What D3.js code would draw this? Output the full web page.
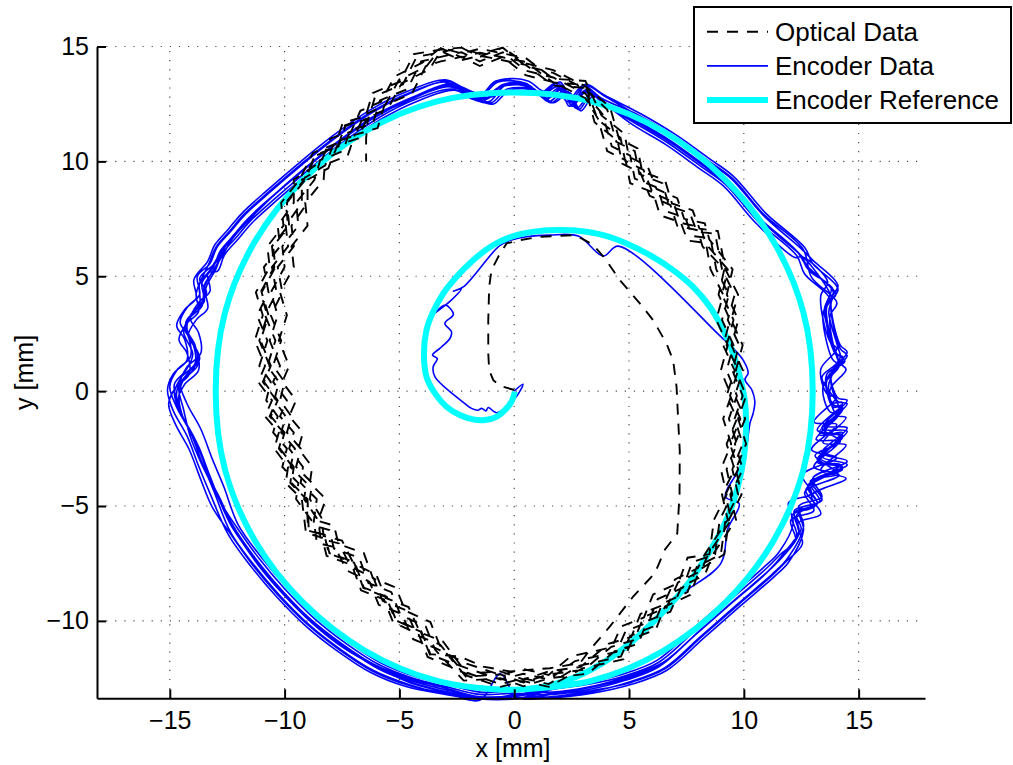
<!DOCTYPE html>
<html>
<head>
<meta charset="utf-8">
<script src="https://cdn.jsdelivr.net/npm/d3@7"></script>
<style>
  body { margin: 0; background: #fff; }
  svg { display: block; font-family: "Liberation Sans", Arial, Helvetica, sans-serif; }
</style>
</head>
<body>
<svg id="chart" width="1013" height="765"></svg>
<script>
// ---- axis ticks and series names ----
const xTicks = [-15, -10, -5, 0, 5, 10, 15];
const yTicks = [-10, -5, 0, 5, 10, 15];
const seriesNames = ["Optical Data", "Encoder Data", "Encoder Reference"];
const xLabel = "x [mm]";
const yLabel = "y [mm]";

// ---- encoder reference: inner spiral arm, then the full r = 13 mm lap ----
const referenceSpiral = [
  [0.03,-0.03],[-0.12,-0.46],[-0.41,-0.83],[-0.77,-1.12],[-1.28,-1.26],[-1.79,-1.23],
  [-2.37,-1.04],[-2.95,-0.68],[-3.45,-0.10],[-3.82,0.62],[-3.93,1.64],[-3.82,2.66],
  [-3.53,3.45],[-3.09,4.25],[-2.51,4.98],[-1.79,5.70],[-0.91,6.36],[0.10,6.79],
  [1.12,6.97],[1.99,7.01],[2.86,6.97],[3.88,6.79],[4.89,6.43],[5.91,5.92],[6.92,5.27],
  [7.79,4.54],[8.52,3.67],[9.10,2.66],[9.54,1.64],[9.83,0.62],[10.04,-0.39],[10.1,-1.5],
  [10.0,-2.9],[9.7,-4.3],[9.2,-5.7],[8.5,-7.0],[7.4,-8.6],[5.9,-10.2],[4.5,-11.4],
  [3.0,-12.3],[1.55,-12.8]
];
const referenceCircle = [
  [0.0,-13.0],[-3.4,-12.6],[-6.5,-11.3],[-9.2,-9.2],[-11.3,-6.5],[-12.6,-3.4],[-13.0,0.0],
  [-12.6,3.4],[-11.3,6.5],[-9.2,9.2],[-6.5,11.3],[-3.4,12.6],[0.0,13.0],[3.4,12.6],
  [6.5,11.3],[9.2,9.2],[11.3,6.5],[12.6,3.4],[13.0,0.0],[12.6,-3.4],[11.3,-6.5],
  [9.2,-9.2],[6.5,-11.3],[3.4,-12.6],[0.0,-13.0]
];

// ---- encoder data: start-up arm, then ten laps ----
const encoderStart = [
  [0.0,0.0],[0.38,0.3],[0.05,-0.3],[-0.77,-0.94],[-1.13,-0.71],[-1.23,-0.86],[-1.42,-0.75],
  [-1.57,-0.83],[-1.86,-0.75],[-2.15,-0.54],[-3.45,0.62],[-3.53,1.06],[-3.35,1.42],
  [-3.56,1.57],[-3.24,1.86],[-2.8,2.29],[-2.73,2.58],[-3.02,2.95],[-2.65,3.34],[-3.0,3.75],
  [-3.45,3.4],[-2.75,3.95],[-2.3,4.45],[-2.65,4.35],[-2.2,4.55],[-0.62,6.34],[-0.04,6.6],
  [0.54,6.72],[1.55,6.79],[2.79,6.75],[3.88,5.88],[4.53,6.31],[9.03,2.34],[9.54,1.86],
  [9.97,1.35],[10.19,0.79],[10.05,0.5],[10.34,0.07],[10.48,-0.44],[10.41,-0.95],[10.27,-1.39],
  [10.0,-3.0],[9.2,-4.6],[9.8,-4.9],[9.3,-6.0],[9.0,-7.5],[7.2,-8.9],[5.9,-10.2],[4.4,-11.4],
  [3.0,-12.3],[1.5,-12.95]
];
const encoderLap1 = [
  [0.0,-13.3],[-1.5,-13.35],[-3.0,-13.0],[-4.5,-12.6],[-6.0,-12.0],[-7.4,-11.1],[-8.8,-10.0],
  [-10.1,-8.7],[-11.2,-7.4],[-12.2,-6.0],[-12.9,-4.6],[-13.4,-3.4],[-13.9,-2.1],[-14.5,-1.0],
  [-14.8,-0.1],[-14.5,0.6],[-13.9,1.2],[-14.0,2.1],[-14.35,2.7],[-14.0,3.4],[-13.5,3.9],
  [-13.6,4.7],[-13.1,5.4],[-12.8,6.1],[-12.2,6.8],[-11.6,7.5],[-10.5,8.5],[-9.1,9.7],
  [-7.6,10.9],[-6.0,12.0],[-4.4,12.8],[-2.8,13.3],[-1.9,12.9],[-1.2,12.7],[-0.5,13.3],
  [0.7,13.25],[1.4,12.75],[2.1,13.2],[2.5,12.4],[3.2,13.1],[3.9,12.6],[5.3,11.8],[6.8,10.9],
  [8.2,9.9],[9.3,9.1],[10.7,7.5],[12.4,6.0],[12.8,5.4],[13.9,4.3],[13.6,3.7],[14.0,1.7],
  [14.3,1.4],[13.6,0.5],[13.9,-0.6],[14.3,-0.7],[13.3,-1.8],[14.3,-1.9],[13.2,-3.0],
  [14.3,-3.35],[12.8,-4.1],[13.2,-4.9],[12.2,-5.3],[12.4,-6.2],[11.7,-7.2],[11.1,-7.8],
  [9.6,-9.1],[8.0,-10.5],[6.4,-11.9],[4.9,-12.5],[3.3,-12.9],[1.6,-13.15]
];
const encoderLap2 = [
  [0.0,-13.4],[-1.5,-13.4],[-3.0,-13.2],[-4.65,-12.75],[-6.15,-12.15],[-7.55,-11.25],
  [-8.95,-10.15],[-10.25,-8.85],[-11.35,-7.55],[-12.35,-6.15],[-13.1,-4.3],[-13.6,-3.1],
  [-14.1,-1.8],[-14.7,-0.7],[-15.0,0.2],[-14.7,0.9],[-14.1,1.5],[-14.2,2.4],[-14.55,3.0],
  [-14.2,3.7],[-13.7,4.2],[-13.8,5.0],[-13.25,5.55],[-12.95,6.25],[-12.35,6.95],[-11.75,7.65],
  [-10.65,8.65],[-9.25,9.85],[-7.75,11.05],[-6.15,12.15],[-4.55,12.95],[-2.9,13.5],[-2.1,13.1],
  [-1.4,12.9],[-0.7,13.45],[0.5,13.4],[1.2,12.95],[1.9,13.4],[2.6,12.6],[3.1,13.3],[4.0,12.8],
  [5.45,11.95],[6.95,11.05],[8.35,10.05],[9.45,9.25],[10.85,7.65],[12.55,6.15],[13.0,5.7],
  [14.1,4.6],[13.8,4.0],[14.2,2.0],[14.5,1.7],[13.8,0.8],[14.1,-0.3],[14.5,-0.4],[13.5,-1.5],
  [14.5,-1.6],[13.4,-2.7],[14.5,-3.05],[13.0,-3.8],[13.4,-4.6],[12.4,-5.0],[12.6,-5.9],
  [11.85,-7.35],[11.25,-7.95],[9.75,-9.25],[8.15,-10.65],[6.55,-12.05],[5.05,-12.65],
  [3.3,-13.1],[1.6,-13.35]
];
const encoderLap3 = [
  [0.2,-13.2],[-1.4,-13.4],[-2.9,-13.1],[-4.4,-12.7],[-5.9,-12.1],[-7.3,-11.2],[-8.7,-10.1],
  [-10.0,-8.8],[-11.1,-7.5],[-12.1,-6.1],[-12.8,-4.8],[-13.3,-3.6],[-13.8,-2.4],[-14.3,-1.4],
  [-14.7,-0.5],[-14.6,0.3],[-14.0,0.9],[-13.8,1.7],[-14.2,2.4],[-14.2,3.1],[-13.6,3.7],
  [-13.5,4.5],[-13.2,5.1],[-12.7,5.9],[-12.3,6.6],[-11.7,7.3],[-10.6,8.4],[-9.2,9.6],
  [-7.7,10.8],[-6.1,11.9],[-4.5,12.7],[-2.9,13.25],[-2.1,13.0],[-1.4,12.6],[-0.7,13.2],
  [0.5,13.3],[1.2,12.9],[1.9,13.25],[2.6,12.5],[3.1,13.0],[4.0,12.5],[5.4,11.7],[6.9,10.8],
  [8.3,9.8],[9.4,9.0],[10.8,7.4],[12.3,6.1],[12.9,5.2],[13.8,4.5],[13.5,3.5],[13.9,2.0],
  [14.1,1.3],[13.4,0.6],[14.0,-0.4],[14.2,-0.9],[13.4,-1.6],[14.2,-2.2],[13.1,-2.8],
  [14.1,-3.6],[12.9,-3.9],[13.4,-4.7],[12.3,-5.4],[12.5,-6.0],[11.8,-7.0],[11.0,-7.9],
  [9.5,-9.2],[7.9,-10.6],[6.3,-12.0],[4.8,-12.6],[3.2,-13.0],[1.7,-13.2]
];
const encoderLap4 = [
  [0.0,-13.15],[-1.5,-13.2],[-3.0,-12.85],[-4.4,-12.5],[-5.9,-11.9],[-7.3,-11.0],[-8.7,-9.9],
  [-10.0,-8.6],[-11.1,-7.3],[-12.1,-5.9],[-12.75,-4.9],[-13.25,-3.7],[-13.75,-2.4],
  [-14.35,-1.3],[-14.65,-0.4],[-14.35,0.3],[-13.75,0.9],[-13.85,1.8],[-14.2,2.4],[-13.85,3.1],
  [-13.35,3.6],[-13.45,4.4],[-13.0,5.3],[-12.7,6.0],[-12.1,6.7],[-11.5,7.4],[-10.4,8.4],
  [-9.0,9.6],[-7.5,10.8],[-5.9,11.9],[-4.3,12.7],[-2.7,13.15],[-1.8,12.7],[-1.0,12.55],
  [-0.3,13.15],[0.9,13.1],[1.6,12.55],[2.3,13.05],[2.8,12.25],[3.4,12.95],[4.0,12.45],
  [5.2,11.7],[6.7,10.8],[8.1,9.8],[9.2,9.0],[10.6,7.4],[12.3,5.9],[12.65,5.1],[13.75,4.0],
  [13.45,3.4],[13.85,1.4],[14.15,1.1],[13.45,0.2],[13.75,-0.9],[14.15,-1.0],[13.15,-2.1],
  [14.15,-2.2],[13.05,-3.3],[14.15,-3.65],[12.65,-4.4],[13.05,-5.2],[12.05,-5.6],[12.25,-6.5],
  [11.6,-7.1],[11.0,-7.7],[9.5,-9.0],[7.9,-10.4],[6.3,-11.8],[4.8,-12.4],[3.3,-12.75],
  [1.6,-13.0]
];
const encoderLap5 = [
  [0.0,-13.4],[-1.6,-13.3],[-3.1,-12.9],[-4.6,-12.5],[-6.1,-11.9],[-7.5,-11.0],[-8.9,-9.9],
  [-10.2,-8.6],[-11.3,-7.3],[-12.3,-5.9],[-13.0,-4.4],[-13.6,-3.2],[-14.1,-2.0],[-14.4,-0.8],
  [-14.6,0.2],[-14.2,0.8],[-13.7,1.4],[-14.1,2.3],[-14.3,3.0],[-13.8,3.6],[-13.4,4.3],
  [-13.7,4.9],[-13.0,5.6],[-12.6,6.3],[-12.0,7.0],[-11.4,7.7],[-10.4,8.6],[-9.0,9.8],
  [-7.5,11.0],[-5.9,12.1],[-4.3,12.85],[-2.7,13.4],[-2.0,13.0],[-1.0,12.8],[-0.3,13.4],
  [0.8,13.2],[1.5,12.6],[2.2,13.1],[2.7,12.3],[3.4,13.0],[4.1,12.4],[5.5,11.6],[7.0,10.7],
  [8.4,9.7],[9.5,8.9],[10.9,7.3],[12.5,5.9],[12.9,5.5],[13.8,4.1],[13.7,3.4],[14.1,1.9],
  [14.2,1.5],[13.7,0.3],[13.8,-0.5],[14.3,-0.5],[13.5,-1.9],[14.3,-1.8],[13.3,-3.1],
  [14.2,-3.2],[12.7,-4.3],[13.1,-5.0],[12.1,-5.4],[12.3,-6.3],[11.6,-7.3],[11.0,-7.9],
  [9.6,-9.1],[8.0,-10.5],[6.4,-11.9],[4.9,-12.5],[3.3,-12.9],[1.6,-13.2]
];
const encoderLap6 = [
  [0.0,-13.4],[-1.5,-13.4],[-3.0,-13.2],[-4.75,-12.85],[-6.25,-12.25],[-7.65,-11.35],
  [-9.05,-10.25],[-10.35,-8.95],[-11.45,-7.65],[-12.45,-6.25],[-13.25,-4.45],[-13.75,-3.25],
  [-14.25,-1.95],[-14.85,-0.85],[-15.1,0.05],[-14.85,0.75],[-14.25,1.35],[-14.35,2.25],
  [-14.7,2.85],[-14.35,3.55],[-13.85,4.05],[-13.95,4.85],[-13.35,5.65],[-13.05,6.35],
  [-12.45,7.05],[-11.85,7.75],[-10.75,8.75],[-9.35,9.95],[-7.85,11.15],[-6.25,12.25],
  [-4.65,13.05],[-3.0,13.55],[-2.2,13.2],[-1.4,12.95],[-0.6,13.55],[0.6,13.5],[1.3,13.05],
  [2.0,13.45],[2.5,12.7],[3.1,13.35],[3.9,12.9],[5.55,12.05],[7.05,11.15],[8.45,10.15],
  [9.55,9.35],[10.95,7.75],[12.65,6.25],[13.0,5.55],[14.1,4.45],[13.8,3.85],[14.2,1.85],
  [14.5,1.55],[13.8,0.65],[14.1,-0.45],[14.5,-0.55],[13.5,-1.65],[14.5,-1.75],[13.4,-2.85],
  [14.5,-3.2],[13.0,-3.95],[13.4,-4.75],[12.4,-5.15],[12.6,-6.05],[11.95,-7.45],[11.35,-8.05],
  [9.85,-9.35],[8.25,-10.75],[6.65,-12.15],[5.15,-12.75],[3.4,-13.15],[1.6,-13.35]
];
const encoderLap7 = [
  [0.1,-13.3],[-0.6,-12.3],[-1.5,-13.45],[-3.0,-13.1],[-4.5,-12.7],[-6.0,-12.0],[-7.4,-11.2],
  [-8.8,-10.1],[-10.1,-8.8],[-11.2,-7.5],[-12.2,-6.0],[-12.8,-4.7],[-13.3,-3.7],[-13.7,-2.6],
  [-14.2,-1.6],[-14.6,-0.7],[-14.8,0.3],[-14.3,0.9],[-14.0,1.6],[-14.4,2.6],[-14.1,3.3],
  [-13.7,3.8],[-13.7,4.7],[-13.3,5.2],[-12.8,6.0],[-12.3,6.7],[-11.5,7.5],[-10.5,8.5],
  [-9.1,9.7],[-7.6,10.9],[-6.0,12.0],[-4.4,12.8],[-2.9,13.3],[-1.8,12.8],[-1.1,12.6],
  [-0.4,13.3],[0.6,13.3],[1.3,12.8],[2.0,13.2],[2.4,12.4],[3.1,13.1],[3.8,12.6],[5.2,11.8],
  [6.7,10.9],[8.1,9.9],[9.2,9.1],[10.6,7.6],[12.3,6.1],[12.7,5.5],[14.0,4.2],[13.6,3.8],
  [13.9,1.8],[14.4,1.3],[13.6,0.7],[13.9,-0.7],[14.3,-0.6],[13.2,-1.7],[14.3,-2.0],
  [13.3,-2.9],[14.3,-3.4],[12.9,-4.0],[13.3,-4.8],[12.2,-5.2],[12.4,-6.1],[11.7,-7.1],
  [11.2,-7.7],[9.7,-9.0],[8.1,-10.4],[6.5,-11.8],[5.0,-12.4],[3.4,-12.85],[1.7,-13.1]
];
const encoderLap8 = [
  [0.0,-13.05],[-1.5,-13.1],[-3.0,-12.75],[-4.32,-12.42],[-5.82,-11.82],[-7.22,-10.92],
  [-8.62,-9.82],[-9.92,-8.52],[-11.02,-7.22],[-12.02,-5.82],[-12.65,-4.15],[-13.15,-2.95],
  [-13.65,-1.65],[-14.25,-0.55],[-14.55,0.35],[-14.25,1.05],[-13.65,1.65],[-13.75,2.55],
  [-14.1,3.15],[-13.75,3.85],[-13.25,4.35],[-13.35,5.15],[-12.92,5.22],[-12.62,5.92],
  [-12.02,6.62],[-11.42,7.32],[-10.32,8.32],[-8.92,9.52],[-7.42,10.72],[-5.82,11.82],
  [-4.22,12.62],[-2.6,13.1],[-1.7,12.7],[-0.9,12.5],[-0.2,13.1],[1.0,13.05],[1.7,12.55],
  [2.4,13.0],[2.9,12.2],[3.5,12.9],[4.1,12.4],[5.12,11.62],[6.62,10.72],[8.02,9.72],
  [9.12,8.92],[10.52,7.32],[12.22,5.82],[12.55,5.85],[13.65,4.75],[13.35,4.15],[13.75,2.15],
  [14.05,1.85],[13.35,0.95],[13.65,-0.15],[14.05,-0.25],[13.05,-1.35],[14.05,-1.45],
  [12.95,-2.55],[14.05,-2.9],[12.55,-3.65],[12.95,-4.45],[11.95,-4.85],[12.15,-5.75],
  [11.52,-7.02],[10.92,-7.62],[9.42,-8.92],[7.82,-10.32],[6.22,-11.72],[4.72,-12.32],
  [3.3,-12.65],[1.6,-12.9]
];
const encoderLap9 = [
  [0.0,-13.25],[-1.5,-13.3],[-3.0,-13.0],[-4.5,-12.6],[-6.0,-12.0],[-7.4,-11.1],[-8.8,-10.0],
  [-10.1,-8.7],[-11.2,-7.4],[-12.2,-6.0],[-12.9,-4.6],[-13.4,-3.4],[-13.8,-2.3],[-14.4,-1.2],
  [-14.6,-0.3],[-14.4,0.5],[-13.8,1.1],[-13.9,2.0],[-14.3,2.8],[-13.9,3.5],[-13.5,4.0],
  [-13.5,4.6],[-13.0,5.4],[-12.7,6.1],[-12.2,6.8],[-11.6,7.5],[-10.5,8.5],[-9.1,9.7],
  [-7.6,10.9],[-6.0,12.0],[-4.4,12.8],[-2.8,13.35],[-1.9,12.95],[-1.2,12.75],[-0.5,13.35],
  [0.7,13.2],[1.4,12.7],[2.1,13.15],[2.5,12.45],[3.2,13.15],[3.9,12.55],[5.3,11.8],[6.8,10.9],
  [8.2,9.9],[9.3,9.1],[10.7,7.5],[12.4,6.0],[12.8,5.3],[13.9,4.4],[13.6,3.6],[14.0,1.6],
  [14.3,1.5],[13.6,0.4],[13.9,-0.6],[14.3,-0.8],[13.3,-1.9],[14.3,-1.9],[13.2,-3.1],
  [14.3,-3.3],[12.8,-4.2],[13.2,-4.9],[12.2,-5.3],[12.4,-6.2],[11.7,-7.2],[11.1,-7.8],
  [9.6,-9.1],[8.0,-10.5],[6.4,-11.9],[4.9,-12.5],[3.3,-12.9],[1.6,-13.15]
];
const encoderLap10 = [
  [0.0,-13.4],[-1.5,-13.4],[-3.0,-13.15],[-4.68,-12.78],[-6.18,-12.18],[-7.58,-11.28],
  [-8.98,-10.18],[-10.28,-8.88],[-11.38,-7.58],[-12.38,-6.18],[-13.15,-5.05],[-13.65,-3.85],
  [-14.15,-2.55],[-14.75,-1.45],[-15.05,-0.55],[-14.75,0.15],[-14.15,0.75],[-14.25,1.65],
  [-14.6,2.25],[-14.25,2.95],[-13.75,3.45],[-13.85,4.25],[-13.28,5.58],[-12.98,6.28],
  [-12.38,6.98],[-11.78,7.68],[-10.68,8.68],[-9.28,9.88],[-7.78,11.08],[-6.18,12.18],
  [-4.58,12.98],[-3.0,13.45],[-2.2,13.05],[-1.5,12.85],[-0.8,13.5],[0.4,13.4],[1.1,12.95],
  [1.8,13.4],[2.3,12.6],[3.0,13.3],[3.8,12.75],[5.48,11.98],[6.98,11.08],[8.38,10.08],
  [9.48,9.28],[10.88,7.68],[12.58,6.18],[12.95,4.95],[14.05,3.85],[13.75,3.25],[14.15,1.25],
  [14.45,0.95],[13.75,0.05],[14.05,-1.05],[14.45,-1.15],[13.45,-2.25],[14.45,-2.35],
  [13.35,-3.45],[14.45,-3.8],[12.95,-4.55],[13.35,-5.35],[12.35,-5.75],[12.55,-6.65],
  [11.88,-7.38],[11.28,-7.98],[9.78,-9.28],[8.18,-10.68],[6.58,-12.08],[5.08,-12.68],
  [3.3,-13.05],[1.6,-13.3],[0.0,-13.35]
];

// ---- optical data: start-up arm, then the laps ----
const opticalStart = [
  [0.0,0.05],[-0.62,0.23],[-0.91,0.48],[-1.09,0.91],[-1.13,1.64],[-1.13,3.09],[-1.09,4.54],
  [-0.99,5.27],[-0.62,5.99],[-0.33,6.43],[0.25,6.57],[1.12,6.72],[1.99,6.76],[2.64,6.79],
  [2.93,6.65],[3.44,6.36],[3.95,5.78],[4.6,4.83],[5.47,3.82],[6.05,3.09],[6.63,2.08],
  [6.92,1.35],[7.07,0.19],[7.14,-1.26],[7.21,-2.6],[7.2,-4.5],[7.1,-6.2],[6.56,-6.9],
  [6.13,-7.92],[5.18,-8.94],[4.17,-10.24],[3.3,-11.26],[2.86,-11.84],[1.55,-12.06],
  [-0.19,-12.2],[-1.35,-11.99],[-2.37,-11.55]
];
const opticalLap1 = [
  [-3.65,-11.45],[-4.05,-10.45],[-5.15,-9.95],[-5.55,-8.95],[-6.55,-8.55],[-6.95,-7.45],
  [-8.05,-7.05],[-8.25,-6.25],[-8.95,-6.05],[-9.0,-4.7],[-9.7,-4.0],[-9.6,-3.3],[-10.2,-2.5],
  [-10.0,-1.8],[-10.6,-1.1],[-10.3,-0.4],[-10.9,0.4],[-10.6,1.1],[-11.05,2.2],[-10.7,3.3],
  [-11.0,4.3],[-10.4,5.4],[-10.5,6.3],[-9.8,7.2],[-9.9,8.2],[-9.1,9.2],[-8.65,10.25],
  [-7.65,10.65],[-7.35,11.55],[-6.35,11.85],[-6.05,12.85],[-4.85,13.35],[-4.25,14.55],
  [-3.2,14.75],[-2.3,14.95],[-1.5,14.55],[-0.5,14.95],[0.5,14.15],[1.7,13.85],[3.1,13.15],
  [4.05,12.25],[4.45,10.85],[5.25,10.45],[5.45,9.45],[6.45,9.05],[6.75,8.05],[7.65,7.75],
  [7.95,6.95],[8.75,6.85],[9.05,5.3],[9.6,4.2],[9.3,3.1],[9.8,2.0],[9.5,0.9],[9.95,-0.2],
  [9.6,-1.2],[9.95,-2.3],[9.5,-3.4],[9.75,-4.5],[9.2,-5.6],[9.0,-7.1],[7.95,-7.65],
  [7.55,-8.75],[6.45,-9.25],[6.05,-10.25],[5.05,-10.65],[4.65,-11.55],[2.85,-11.95],
  [1.5,-12.75],[0.4,-12.5],[-0.6,-12.75],[-2.1,-12.25]
];
const opticalLap2 = [
  [-3.1,-10.9],[-4.1,-10.5],[-4.6,-9.4],[-5.6,-9.0],[-6.0,-8.0],[-7.0,-7.5],[-7.5,-6.5],
  [-8.3,-6.3],[-8.4,-5.5],[-8.9,-4.7],[-8.8,-4.0],[-9.5,-3.3],[-9.3,-2.5],[-9.9,-1.8],
  [-9.7,-1.1],[-10.2,-0.4],[-10.0,0.4],[-10.5,1.1],[-10.15,2.2],[-10.6,3.3],[-10.1,4.3],
  [-10.3,5.4],[-9.6,6.3],[-9.7,7.2],[-9.0,8.2],[-9.0,9.2],[-8.1,9.7],[-7.7,10.7],[-6.8,11.0],
  [-6.4,11.9],[-5.5,12.3],[-4.9,13.4],[-3.7,14.0],[-3.2,14.8],[-2.3,14.4],[-1.5,14.6],
  [-0.5,14.4],[0.5,14.2],[1.7,13.3],[3.1,13.2],[3.5,11.7],[4.5,10.9],[4.7,9.9],[5.5,9.5],
  [5.9,8.5],[6.8,8.1],[7.1,7.2],[8.0,7.0],[8.2,6.3],[9.15,5.3],[8.9,4.2],[9.4,3.1],[9.1,2.0],
  [9.6,0.9],[9.25,-0.2],[9.7,-1.2],[9.25,-2.3],[9.6,-3.4],[9.05,-4.5],[9.3,-5.6],[8.3,-7.1],
  [8.0,-7.7],[7.0,-8.2],[6.5,-9.3],[5.5,-9.7],[5.1,-10.7],[4.1,-11.0],[2.9,-12.0],
  [1.5,-12.2],[0.4,-12.55],[-0.6,-12.2],[-2.1,-12.3]
];
const opticalLap3 = [
  [-3.77,-11.57],[-4.17,-10.57],[-5.27,-10.07],[-5.67,-9.07],[-6.67,-8.67],[-7.07,-7.57],
  [-8.17,-7.17],[-8.37,-6.37],[-9.07,-6.17],[-9.25,-4.7],[-9.95,-4.0],[-9.85,-3.3],
  [-10.45,-2.5],[-10.25,-1.8],[-10.85,-1.1],[-10.55,-0.4],[-11.15,0.4],[-10.85,1.1],
  [-11.3,2.2],[-10.95,3.3],[-11.25,4.3],[-10.65,5.4],[-10.75,6.3],[-10.05,7.2],[-10.15,8.2],
  [-9.35,9.2],[-8.77,10.37],[-7.77,10.77],[-7.47,11.67],[-6.47,11.97],[-6.17,12.97],
  [-4.97,13.47],[-4.37,14.67],[-3.2,14.87],[-2.3,14.95],[-1.5,14.67],[-0.5,14.95],
  [0.5,14.27],[1.7,13.97],[3.1,13.27],[4.17,12.37],[4.57,10.97],[5.37,10.57],[5.57,9.57],
  [6.57,9.17],[6.87,8.17],[7.77,7.87],[8.07,7.07],[8.87,6.97],[9.2,5.3],[9.75,4.2],[9.45,3.1],
  [9.95,2.0],[9.65,0.9],[10.1,-0.2],[9.75,-1.2],[10.1,-2.3],[9.65,-3.4],[9.9,-4.5],
  [9.35,-5.6],[9.15,-7.1],[8.07,-7.77],[7.67,-8.87],[6.57,-9.37],[6.17,-10.37],[5.17,-10.77],
  [4.77,-11.67],[2.97,-12.07],[1.5,-12.87],[0.4,-12.62],[-0.6,-12.87],[-2.1,-12.37]
];
const opticalLap4 = [
  [-3.23,-11.03],[-4.23,-10.63],[-4.73,-9.53],[-5.73,-9.13],[-6.13,-8.13],[-7.13,-7.63],
  [-7.63,-6.63],[-8.43,-6.43],[-8.53,-5.63],[-9.15,-4.7],[-9.05,-4.0],[-9.75,-3.3],
  [-9.55,-2.5],[-10.15,-1.8],[-9.95,-1.1],[-10.45,-0.4],[-10.25,0.4],[-10.75,1.1],
  [-10.4,2.2],[-10.85,3.3],[-10.35,4.3],[-10.55,5.4],[-9.85,6.3],[-9.95,7.2],[-9.25,8.2],
  [-9.25,9.2],[-8.23,9.83],[-7.83,10.83],[-6.93,11.13],[-6.53,12.03],[-5.63,12.43],
  [-5.03,13.53],[-3.83,14.13],[-3.2,14.93],[-2.3,14.53],[-1.5,14.73],[-0.5,14.53],
  [0.5,14.33],[1.7,13.43],[3.1,13.33],[3.63,11.83],[4.63,11.03],[4.83,10.03],[5.63,9.63],
  [6.03,8.63],[6.93,8.23],[7.23,7.33],[8.13,7.13],[8.33,6.43],[9.3,5.3],[9.05,4.2],[9.55,3.1],
  [9.25,2.0],[9.75,0.9],[9.4,-0.2],[9.85,-1.2],[9.4,-2.3],[9.75,-3.4],[9.2,-4.5],[9.45,-5.6],
  [8.45,-7.1],[8.13,-7.83],[7.13,-8.33],[6.63,-9.43],[5.63,-9.83],[5.23,-10.83],[4.23,-11.13],
  [3.03,-12.13],[1.5,-12.33],[0.4,-12.68],[-0.6,-12.33],[-2.1,-12.43]
];
const opticalLap5 = [
  [-3.25,-11.05],[-3.65,-10.05],[-4.75,-9.55],[-5.15,-8.55],[-6.15,-8.15],[-6.55,-7.05],
  [-7.65,-6.65],[-7.85,-5.85],[-8.55,-5.65],[-8.2,-4.7],[-8.9,-4.0],[-8.8,-3.3],[-9.4,-2.5],
  [-9.2,-1.8],[-9.8,-1.1],[-9.5,-0.4],[-10.1,0.4],[-9.8,1.1],[-10.25,2.2],[-9.9,3.3],
  [-10.2,4.3],[-9.6,5.4],[-9.7,6.3],[-9.0,7.2],[-9.1,8.2],[-8.3,9.2],[-8.25,9.85],
  [-7.25,10.25],[-6.95,11.15],[-5.95,11.45],[-5.65,12.45],[-4.45,12.95],[-3.85,14.15],
  [-3.2,14.35],[-2.3,14.55],[-1.5,14.15],[-0.5,14.55],[0.5,13.75],[1.7,13.45],[3.1,12.75],
  [3.65,11.85],[4.05,10.45],[4.85,10.05],[5.05,9.05],[6.05,8.65],[6.35,7.65],[7.25,7.35],
  [7.55,6.55],[8.35,6.45],[8.55,5.3],[9.1,4.2],[8.8,3.1],[9.3,2.0],[9.0,0.9],[9.45,-0.2],
  [9.1,-1.2],[9.45,-2.3],[9.0,-3.4],[9.25,-4.5],[8.7,-5.6],[8.5,-7.1],[7.55,-7.25],
  [7.15,-8.35],[6.05,-8.85],[5.65,-9.85],[4.65,-10.25],[4.25,-11.15],[2.45,-11.55],
  [1.5,-12.35],[0.4,-12.1],[-0.6,-12.35],[-2.1,-11.85]
];
const opticalLap6 = [
  [-3.4,-11.2],[-4.4,-10.8],[-4.9,-9.7],[-5.9,-9.3],[-6.3,-8.3],[-7.3,-7.8],[-7.8,-6.8],
  [-8.6,-6.6],[-8.7,-5.8],[-9.5,-4.7],[-9.4,-4.0],[-10.1,-3.3],[-9.9,-2.5],[-10.5,-1.8],
  [-10.3,-1.1],[-10.8,-0.4],[-10.6,0.4],[-11.1,1.1],[-10.75,2.2],[-11.2,3.3],[-10.7,4.3],
  [-10.9,5.4],[-10.2,6.3],[-10.3,7.2],[-9.6,8.2],[-9.6,9.2],[-8.4,10.0],[-8.0,11.0],
  [-7.1,11.3],[-6.7,12.2],[-5.8,12.6],[-5.2,13.7],[-4.0,14.3],[-3.2,14.95],[-2.3,14.7],
  [-1.5,14.9],[-0.5,14.7],[0.5,14.5],[1.7,13.6],[3.1,13.5],[3.8,12.0],[4.8,11.2],[5.0,10.2],
  [5.8,9.8],[6.2,8.8],[7.1,8.4],[7.4,7.5],[8.3,7.3],[8.5,6.6],[9.51,5.3],[9.26,4.2],
  [9.76,3.1],[9.46,2.0],[9.96,0.9],[9.61,-0.2],[10.06,-1.2],[9.61,-2.3],[9.96,-3.4],
  [9.41,-4.5],[9.66,-5.6],[8.66,-7.1],[8.3,-8.0],[7.3,-8.5],[6.8,-9.6],[5.8,-10.0],
  [5.4,-11.0],[4.4,-11.3],[3.2,-12.3],[1.5,-12.5],[0.4,-12.85],[-0.6,-12.5],[-2.2,-12.6]
];
const opticalLap7 = [
  [-3.45,-11.25],[-3.85,-10.25],[-4.95,-9.75],[-5.35,-8.75],[-6.35,-8.35],[-6.75,-7.25],
  [-7.85,-6.85],[-8.05,-6.05],[-8.75,-5.85],[-8.6,-4.7],[-9.3,-4.0],[-9.2,-3.3],[-9.8,-2.5],
  [-9.6,-1.8],[-10.2,-1.1],[-9.9,-0.4],[-10.5,0.4],[-10.2,1.1],[-10.65,2.2],[-10.3,3.3],
  [-10.6,4.3],[-10.0,5.4],[-10.1,6.3],[-9.4,7.2],[-9.5,8.2],[-8.7,9.2],[-8.45,10.05],
  [-7.45,10.45],[-7.15,11.35],[-6.15,11.65],[-5.85,12.65],[-4.65,13.15],[-4.05,14.35],
  [-3.2,14.55],[-2.3,14.75],[-1.5,14.35],[-0.5,14.75],[0.5,13.95],[1.7,13.65],[3.1,12.95],
  [3.85,12.05],[4.25,10.65],[5.05,10.25],[5.25,9.25],[6.25,8.85],[6.55,7.85],[7.45,7.55],
  [7.75,6.75],[8.55,6.65],[8.8,5.3],[9.35,4.2],[9.05,3.1],[9.55,2.0],[9.25,0.9],[9.7,-0.2],
  [9.35,-1.2],[9.7,-2.3],[9.25,-3.4],[9.5,-4.5],[8.95,-5.6],[8.75,-7.1],[7.75,-7.45],
  [7.35,-8.55],[6.25,-9.05],[5.85,-10.05],[4.85,-10.45],[4.45,-11.35],[2.65,-11.75],
  [1.5,-12.55],[0.4,-12.3],[-0.6,-12.55],[-2.1,-12.05]
];
const opticalLap8 = [
  [-3.67,-11.47],[-4.07,-10.47],[-5.17,-9.97],[-5.57,-8.97],[-6.57,-8.57],[-6.97,-7.47],
  [-8.07,-7.07],[-8.27,-6.27],[-8.97,-6.07],[-9.05,-4.7],[-9.75,-4.0],[-9.65,-3.3],
  [-10.25,-2.5],[-10.05,-1.8],[-10.65,-1.1],[-10.35,-0.4],[-10.95,0.4],[-10.65,1.1],
  [-11.1,2.2],[-10.75,3.3],[-11.05,4.3],[-10.45,5.4],[-10.55,6.3],[-9.85,7.2],[-9.95,8.2],
  [-9.15,9.2],[-8.67,10.27],[-7.67,10.67],[-7.37,11.57],[-6.37,11.87],[-6.45,11.0],
  [-6.45,10.0]
];

// ---- layout ----
const svg = d3.select("#chart");
const plot = { left: 97, right: 925, top: 46.5, bottom: 698.3 };
const fontSize = 25;

const x = d3.scaleLinear().domain([-18.17, 17.89]).range([plot.left, plot.right]);
const y = d3.scaleLinear().domain([-13.37, 15]).range([plot.bottom, plot.top]);

// dotted grid
const grid = svg.append("g")
  .attr("stroke", "#4a4a4a")
  .attr("stroke-width", 1.2)
  .attr("stroke-dasharray", "1.2,7.9");
grid.selectAll("line.gx").data(xTicks).join("line")
  .attr("class", "gx")
  .attr("x1", d => x(d)).attr("x2", d => x(d))
  .attr("y1", plot.bottom).attr("y2", plot.top);
grid.selectAll("line.gy").data(yTicks).join("line")
  .attr("class", "gy")
  .attr("y1", d => y(d)).attr("y2", d => y(d))
  .attr("x1", plot.left).attr("x2", plot.right);

// trajectories
const smoothLine = d3.line()
  .x(d => x(d[0]))
  .y(d => y(d[1]))
  .curve(d3.curveCatmullRom.alpha(0.5));
const straightLine = d3.line()
  .x(d => x(d[0]))
  .y(d => y(d[1]));

const encoderPath = encoderStart.concat(encoderLap1, encoderLap2, encoderLap3, encoderLap4,
  encoderLap5, encoderLap6, encoderLap7, encoderLap8, encoderLap9, encoderLap10);
const referencePath = referenceSpiral.concat(referenceCircle);
const opticalPath = opticalStart.concat(opticalLap1, opticalLap2, opticalLap3, opticalLap4,
  opticalLap5, opticalLap6, opticalLap7, opticalLap8);

svg.append("path")
  .attr("d", smoothLine(encoderPath))
  .attr("fill", "none")
  .attr("stroke", "#0000ff")
  .attr("stroke-width", 1.6)
  .attr("stroke-linejoin", "round");

svg.append("path")
  .attr("d", smoothLine(referencePath))
  .attr("fill", "none")
  .attr("stroke", "#00ffff")
  .attr("stroke-width", 6)
  .attr("stroke-linejoin", "round");

svg.append("path")
  .attr("d", straightLine(opticalPath))
  .attr("fill", "none")
  .attr("stroke", "#000")
  .attr("stroke-width", 1.9)
  .attr("stroke-dasharray", "11,9");

// axes
const xAxis = svg.append("g")
  .attr("transform", `translate(0,${plot.bottom})`)
  .call(d3.axisBottom(x).tickValues(xTicks).tickSizeInner(-9).tickSizeOuter(0).tickPadding(13));
const yAxis = svg.append("g")
  .attr("transform", `translate(${plot.left},0)`)
  .call(d3.axisLeft(y).tickValues(yTicks).tickSizeInner(-9).tickSizeOuter(0).tickPadding(8));

[xAxis, yAxis].forEach(g => {
  g.selectAll(".domain").attr("stroke", "#000").attr("stroke-width", 2);
  g.selectAll(".tick line").attr("stroke", "#000").attr("stroke-width", 2);
  g.selectAll(".tick text")
    .attr("fill", "#000")
    .style("font-size", fontSize + "px")
    .style("font-family", '"Liberation Sans", Arial, sans-serif');
});

svg.append("text")
  .attr("x", (plot.left + plot.right) / 2 + 2)
  .attr("y", 757)
  .attr("text-anchor", "middle")
  .style("font-size", fontSize + "px")
  .text(xLabel);

svg.append("text")
  .attr("transform", `translate(33,${(plot.top + plot.bottom) / 2}) rotate(-90)`)
  .attr("text-anchor", "middle")
  .style("font-size", fontSize + "px")
  .text(yLabel);

// legend
const legend = svg.append("g");
legend.append("rect")
  .attr("x", 694).attr("y", 7)
  .attr("width", 317).attr("height", 116)
  .attr("fill", "#fff")
  .attr("stroke", "#000")
  .attr("stroke-width", 2);

const legendStyles = [
  { stroke: "#000", width: 1.9, dash: "11,9" },
  { stroke: "#0000ff", width: 1.6, dash: null },
  { stroke: "#00ffff", width: 6, dash: null }
];
const rowY = d3.scalePoint().domain(seriesNames).range([31.7, 100]);

const rows = legend.selectAll("g.row").data(seriesNames).join("g")
  .attr("class", "row")
  .attr("transform", d => `translate(0,${rowY(d)})`);
rows.append("line")
  .attr("x1", 707).attr("x2", 768)
  .attr("y1", 0).attr("y2", 0)
  .attr("stroke", (d, i) => legendStyles[i].stroke)
  .attr("stroke-width", (d, i) => legendStyles[i].width)
  .attr("stroke-dasharray", (d, i) => legendStyles[i].dash);
rows.append("text")
  .attr("x", 775)
  .attr("y", 0)
  .attr("dy", "0.36em")
  .style("font-size", "26px")
  .text(d => d);
</script>
</body>
</html>
